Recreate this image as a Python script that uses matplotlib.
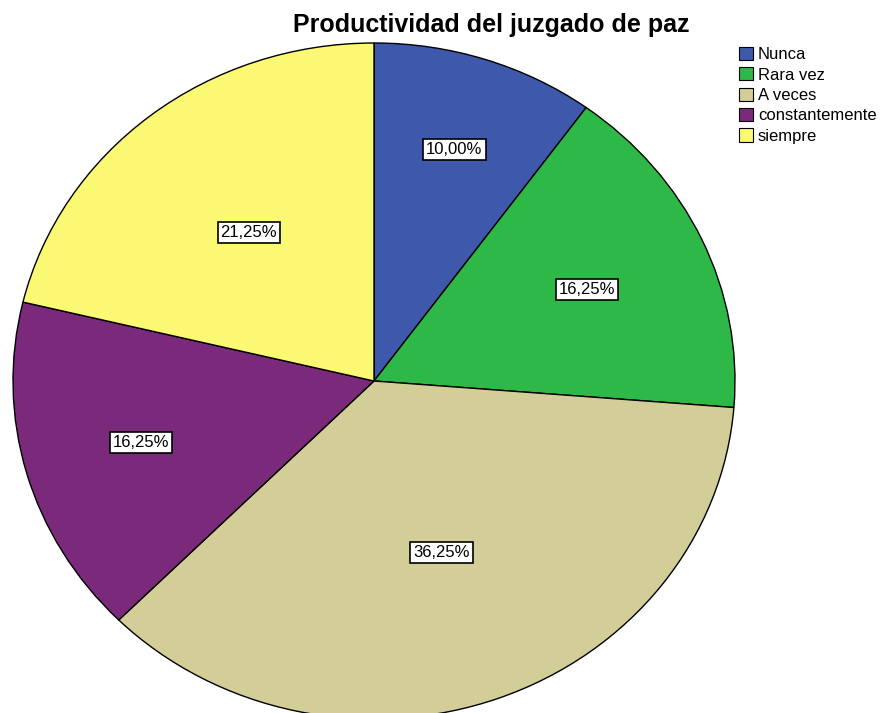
import matplotlib.pyplot as plt
import numpy as np
from matplotlib.patches import Patch

plt.rcParams['font.family'] = ['Liberation Sans', 'DejaVu Sans']

# datos del grafico
categorias = ['Nunca', 'Rara vez', 'A veces', 'constantemente', 'siempre']
porcentajes = [10.00, 16.25, 36.25, 16.25, 21.25]
colores = ['#3E58AC', '#2EB848', '#D3CE97', '#7B2A7B', '#FBF873']
# distancia radial de cada etiqueta (como las pone SPSS)
dist_etiqueta = [0.72, 0.65, 0.54, 0.67, 0.56]

fig = plt.figure(figsize=(8.84, 7.13), dpi=100)
ax = fig.add_axes([0, 0, 1, 1])

wedges, _ = ax.pie(porcentajes, colors=colores, startangle=90, counterclock=False,
                   wedgeprops=dict(edgecolor='black', linewidth=1))

# pie estirado: 361 px en x, 338 px en y, centro en (374, 381)
ax.set_aspect('auto')
ax.set_xlim(-374 / 361, (884 - 374) / 361)
ax.set_ylim(-(713 - 381) / 338, 381 / 338)
ax.axis('off')

for w, p, d in zip(wedges, porcentajes, dist_etiqueta):
    ang = np.deg2rad((w.theta1 + w.theta2) / 2)
    txt = f'{p:.2f}%'.replace('.', ',')
    ax.text(d * np.cos(ang), d * np.sin(ang), txt, ha='center', va='center', fontsize=12,
            bbox=dict(boxstyle='square,pad=0.18', facecolor='white', edgecolor='black', linewidth=1.2))

fig.text(491 / 884, 1 - 25 / 713, 'Productividad del juzgado de paz', ha='center', va='center',
         fontsize=18, fontweight='bold')

handles = [Patch(facecolor=c, edgecolor='black', linewidth=0.8) for c in colores]
fig.legend(handles, categorias, loc='upper left', bbox_to_anchor=(727 / 884, 1 - 35 / 713),
           frameon=False, fontsize=12, handlelength=0.85, handleheight=0.85, handletextpad=0.3,
           labelspacing=0.3, borderpad=0.2)

plt.savefig('out.png', dpi=100)
